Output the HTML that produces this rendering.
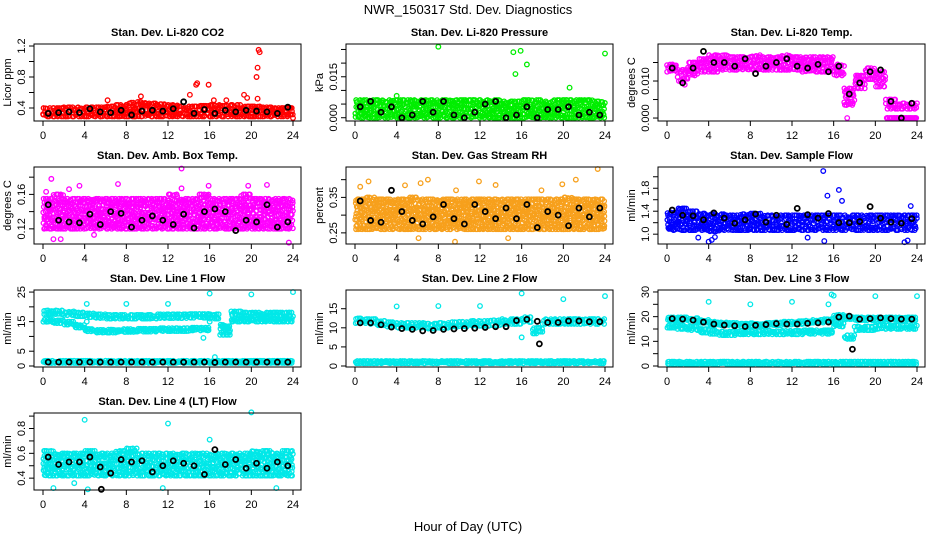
<!DOCTYPE html>
<html><head><meta charset="utf-8"><style>
body{margin:0;background:#fff}
svg{display:block;font-family:"Liberation Sans",Arial,sans-serif}
</style></head><body>
<svg id="chart" width="936" height="540" viewBox="0 0 936 540">
<rect width="936" height="540" fill="#fff"/>
<text x="468" y="14" text-anchor="middle" font-size="13">NWR_150317  Std. Dev. Diagnostics</text>
<text x="468" y="531" text-anchor="middle" font-size="13">Hour of Day (UTC)</text>
</svg>
<script>
const xTicks=[0,4,8,12,16,20,24];
// CO2
const co2Lo=[0.29,0.29,0.29,0.29,0.29,0.29,0.29,0.29,0.29,0.29,0.29,0.29,0.29,0.29,0.29,0.29,0.29,0.29,0.29,0.29,0.29,0.29,0.29,0.29];
const co2Hi=[0.40,0.40,0.41,0.41,0.41,0.41,0.42,0.44,0.47,0.48,0.46,0.45,0.44,0.42,0.42,0.43,0.44,0.43,0.44,0.42,0.42,0.41,0.40,0.40];
const co2Black=[0.33,0.34,0.35,0.34,0.39,0.35,0.34,0.37,0.31,0.36,0.37,0.36,0.39,0.48,0.33,0.38,0.33,0.37,0.35,0.37,0.36,0.35,0.33,0.41];
const co2OutH=[6.2,14.1,14.7,14.8,15.9,16.4,19.3,19.6,20.5,20.6,20.7,20.8,20.6,9.4,17.6,24];
const co2OutV=[0.5,0.57,0.7,0.72,0.7,0.5,0.57,0.53,0.8,0.92,1.15,1.12,0.52,0.55,0.5,0.27];
// Pressure
const prLo=[0,0,0,0,0,0,0,0,0,0,0,0,0,0,0,0,0,0,0,0,0,0,0,0];
const prHi=[0.0065,0.0065,0.0065,0.0065,0.0065,0.0065,0.0065,0.0065,0.0065,0.0065,0.0065,0.0065,0.0065,0.0065,0.006,0.006,0.0065,0.0065,0.006,0.0065,0.0065,0.0065,0.0065,0.006];
const prBlack=[0.004,0.006,0.002,0.004,0.0,0.001,0.006,0.002,0.006,0.001,0,0.002,0.005,0.006,0,0.001,0.004,0,0.003,0.003,0.004,0.001,0.002,0.001];
const prOutH=[8,15.2,15.9,16.5,15.4,20.6,24,4];
const prOutV=[0.026,0.024,0.0245,0.0195,0.016,0.011,0.0235,0.008];
// Li-820 Temp
const tLo=[0.0125,0.010,0.0115,0.0125,0.0125,0.013,0.013,0.013,0.013,0.013,0.013,0.013,0.013,0.0125,0.0125,0.0125,0.0115,0.0035,0.008,0.0105,0.0085,0.0025,0.0025,0.0025];
const tHi=[0.0145,0.013,0.015,0.016,0.017,0.017,0.0165,0.0165,0.017,0.0165,0.0165,0.017,0.0165,0.0165,0.0165,0.0165,0.0145,0.008,0.0115,0.0135,0.0125,0.005,0.004,0.004];
const tZeroLo=[null,null,null,null,null,null,null,null,null,null,null,null,null,null,null,null,null,null,null,null,null,0,0,0];
const tZeroHi=[null,null,null,null,null,null,null,null,null,null,null,null,null,null,null,null,null,null,null,null,null,0,0,0];
const tBlack=[0.0135,0.0095,0.0135,0.018,0.015,0.015,0.014,0.016,0.012,0.014,0.015,0.016,0.014,0.0135,0.0145,0.0125,0.014,0.0065,0.0095,0.0125,0.013,0.0045,0,0.004];
const tOutH=[17.3,0.6,1.7];
const tOutV=[0,0.014,0.009];
// Amb box temp
const abLo=[0.12,0.12,0.12,0.12,0.12,0.12,0.12,0.12,0.12,0.12,0.12,0.12,0.12,0.12,0.12,0.12,0.12,0.12,0.12,0.12,0.12,0.12,0.12,0.12];
const abHi=[0.155,0.16,0.155,0.155,0.155,0.155,0.155,0.155,0.155,0.155,0.155,0.155,0.16,0.155,0.155,0.16,0.155,0.155,0.155,0.16,0.155,0.155,0.155,0.155];
const abBlack=[0.148,0.130,0.128,0.127,0.137,0.125,0.140,0.138,0.122,0.130,0.135,0.130,0.125,0.137,0.121,0.140,0.143,0.140,0.118,0.130,0.128,0.148,0.122,0.128];
const abOutH=[0.8,1,1.7,3.5,7.2,13.3,15.9,19.7,21.5,23.6,4.9,13.3,0.3,2.5];
const abOutV=[0.178,0.108,0.108,0.17,0.172,0.19,0.17,0.17,0.171,0.104,0.113,0.167,0.163,0.166];
// RH
const rhLo=[0.26,0.26,0.26,0.26,0.26,0.26,0.26,0.26,0.26,0.26,0.26,0.26,0.26,0.26,0.26,0.26,0.26,0.26,0.26,0.26,0.26,0.26,0.26,0.26];
const rhHi=[0.345,0.35,0.345,0.345,0.345,0.35,0.345,0.345,0.345,0.345,0.345,0.345,0.345,0.345,0.345,0.345,0.345,0.345,0.345,0.345,0.35,0.345,0.345,0.345];
const rhBlack=[0.34,0.285,0.28,0.37,0.31,0.285,0.275,0.295,0.33,0.29,0.275,0.33,0.31,0.29,0.32,0.29,0.33,0.265,0.31,0.30,0.27,0.32,0.295,0.32];
const rhOutH=[1.3,4.8,6.3,7,9.7,11.9,13.5,17.9,19.9,21.2,23.3,0.5,6.1,9.6,14.7];
const rhOutV=[0.395,0.384,0.39,0.40,0.37,0.395,0.385,0.37,0.387,0.40,0.43,0.38,0.235,0.225,0.235];
// Sample flow
const sfLo=[1.07,1.07,1.07,1.07,1.05,1.07,1.07,1.07,1.07,1.07,1.07,1.07,1.07,1.07,1.07,1.07,1.07,1.07,1.07,1.07,1.07,1.07,1.07,1.07];
const sfHi=[1.38,1.45,1.40,1.36,1.35,1.35,1.33,1.35,1.36,1.33,1.33,1.33,1.33,1.33,1.33,1.33,1.33,1.33,1.33,1.33,1.33,1.33,1.33,1.33];
const sfBlack=[1.42,1.33,1.32,1.25,1.37,1.28,1.19,1.25,1.35,1.21,1.33,1.17,1.45,1.34,1.28,1.36,1.20,1.20,1.22,1.48,1.28,1.21,1.19,1.27];
const sfOutH=[15,16.5,15.4,16.8,4,3,15.1,22.8,23.1,13.5,23.4,4.3,4.6];
const sfOutV=[2.1,1.77,1.67,1.58,0.87,0.94,0.88,0.86,0.89,0.94,1.49,0.9,0.95];
// Line 1 flow
const l1TopLo=[17.5,17.5,17.2,16.8,16.5,16.2,16,16,16,16,16,16.2,16.2,16.2,16.3,16.3,16,12,17,16.8,16.8,16.8,16.8,16.8];
const l1TopHi=[18.8,18.8,18.5,18.1,17.8,17.5,17.3,17.3,17.3,17.3,17.3,17.5,17.5,17.5,17.6,17.6,17.5,14,18.5,18.1,18.1,18.1,18.1,18.1];
const l1BotLo=[14.8,14.5,14,13,11.7,11.3,11.3,11.5,11.5,11.6,11.6,11.8,11.8,11.8,12,12,null,10.5,15,15,15,15,15,15];
const l1BotHi=[15.8,15.5,15,14,12.5,12.2,12.3,12.5,12.5,12.6,12.6,12.8,12.8,12.8,13,13,null,13.5,16,16,16,16,16,16];
const l1BaseLo=[1,1,1,1,1,1,1,1,1,1,1,1,1,1,1,1,1,1,1,1,1,1,1,1];
const l1BaseHi=[1.8,1.8,1.8,1.8,1.8,1.8,1.8,1.8,1.8,1.8,1.8,1.8,1.8,1.8,1.8,1.8,1.8,1.8,1.8,1.8,1.8,1.8,1.8,1.8];
const l1Black=[1.3,1.3,1.3,1.3,1.3,1.3,1.3,1.3,1.3,1.3,1.3,1.3,1.3,1.3,1.3,1.3,1.2,1.3,1.3,1.3,1.3,1.3,1.3,1.3];
const l1OutH=[4.2,8,12,16,20,24,15.4,16.5,4.2,16];
const l1OutV=[21,21,21,24.5,24.2,25,9.5,3,15,15];
// Line 2 flow
const l2Lo=[11.2,11,10.5,10.2,10,10,10,9.8,10,10.2,10.3,10.5,10.5,10.7,11,11,11.5,8.5,11,11,11,11,11,11];
const l2Hi=[12.5,12.3,11.8,11.5,11.3,11.3,11.3,11.1,11.3,11.5,11.6,11.8,11.8,12,12.3,12.3,12.8,10,12.3,12.3,12.3,12.3,12.3,12.3];
const l2BaseLo=[0.7,0.7,0.7,0.7,0.7,0.7,0.7,0.7,0.7,0.7,0.7,0.7,0.7,0.7,0.7,0.7,0.7,0.7,0.7,0.7,0.7,0.7,0.7,0.7];
const l2BaseHi=[1.3,1.3,1.3,1.3,1.3,1.3,1.3,1.3,1.3,1.3,1.3,1.3,1.3,1.3,1.3,1.3,1.3,1.3,1.3,1.3,1.3,1.3,1.3,1.3];
const l2Black=[11.3,11.3,10.8,10.2,9.8,9.6,9.2,9.3,9.6,9.7,9.8,9.9,10.1,10.3,10.3,11.9,12.2,11.7,11.4,11.4,11.8,11.8,11.6,11.6];
const l2BlackOutH=[17.7];
const l2BlackOutV=[5.8];
const l2OutH=[4,8,12,16,20,24,16,17.3,17.8];
const l2OutV=[15.6,15.7,15.7,19,17.5,18.3,7.5,9,9];
// Line 3 flow
const l3TopLo=[18.5,18.5,18.2,17.5,16.8,16.5,16.3,16,16.2,16.3,16.5,16.8,17,17.2,17.5,17.8,19.5,19,18.5,18.5,18.5,18.5,18.5,18.5];
const l3TopHi=[19.7,19.7,19.4,18.7,18,17.7,17.5,17.2,17.4,17.5,17.7,18,18.2,18.4,18.7,19,20.7,20.2,19.7,19.7,19.7,19.7,19.7,19.7];
const l3BotLo=[15.5,15,14.5,13.5,13,12.5,12.5,12.8,12.8,12.8,12.8,12.8,12.8,13,13,13,16,11,14.5,14.5,15,15,15,15];
const l3BotHi=[17,16.5,16,15,14.5,14,14,14.3,14.3,14.3,14.3,14.3,14.3,14.5,14.5,14.5,17.5,12.5,16,16,16.5,16.5,16.5,16.5];
const l3BaseLo=[0.7,0.7,0.7,0.7,0.7,0.7,0.7,0.7,0.7,0.7,0.7,0.7,0.7,0.7,0.7,0.7,0.7,0.7,0.7,0.7,0.7,0.7,0.7,0.7];
const l3BaseHi=[1.8,1.8,1.8,1.8,1.8,1.8,1.8,1.8,1.8,1.8,1.8,1.8,1.8,1.8,1.8,1.8,1.8,1.8,1.8,1.8,1.8,1.8,1.8,1.8];
const l3Black=[19.2,19,18.6,17.8,17,16.6,16.3,16,16.5,16.8,17.2,17.0,17.0,17.3,17.5,17.8,19.8,20.2,19,19.2,19.5,19.2,19,19];
const l3BlackOutH=[17.8];
const l3BlackOutV=[6.8];
const l3OutH=[4,8,12,15.8,16,15.5,20,24];
const l3OutV=[26,25,26,29,28.5,25,28.3,28.3];
// Line 4 flow
const l4Lo=[0.42,0.42,0.42,0.42,0.42,0.42,0.42,0.42,0.42,0.42,0.42,0.42,0.42,0.42,0.42,0.42,0.42,0.42,0.42,0.42,0.42,0.42,0.42,0.42];
const l4Hi=[0.62,0.6,0.6,0.6,0.62,0.6,0.6,0.62,0.64,0.6,0.6,0.6,0.6,0.6,0.6,0.6,0.6,0.6,0.6,0.6,0.62,0.62,0.6,0.62];
const l4Black=[0.57,0.51,0.53,0.53,0.57,0.49,0.44,0.55,0.53,0.54,0.45,0.50,0.54,0.52,0.50,0.43,0.63,0.51,0.55,0.48,0.52,0.48,0.53,0.50];
const l4BlackOutH=[5.6];
const l4BlackOutV=[0.31];
const l4OutH=[4,12,20,16,4.3,11.5,22.4,1,3];
const l4OutV=[0.87,0.84,0.93,0.71,0.31,0.32,0.32,0.32,0.36];

const NS='http://www.w3.org/2000/svg';
const svg=document.getElementById('chart');
function mk(tag,attrs,parent){const e=document.createElementNS(NS,tag);for(const k in attrs)e.setAttribute(k,attrs[k]);(parent||svg).appendChild(e);return e;}
// deterministic texture jitter (visual only, not data)
function jit(a,b){const s=Math.sin(a*12.9898+b*78.233)*43758.5453;return s-Math.floor(s);}

const colL=[34,346,658], rowT=[44,167,290,413], W=267, H=77;
const panels=[
 {id:'co2',title:'Stan. Dev. Li-820 CO2',yl:'Licor ppm',c:0,r:0,ymin:0.232,ymax:1.226,ticks:[0.4,0.6,0.8,1.0,1.2],labs:['0.4','','0.8','','1.2'],col:'#ff0000',bands:[[co2Lo,co2Hi]],black:co2Black,oh:co2OutH,ov:co2OutV},
 {id:'pressure',title:'Stan. Dev. Li-820 Pressure',yl:'kPa',c:1,r:0,ymin:-0.0012,ymax:0.027,ticks:[0,0.005,0.01,0.015,0.02,0.025],labs:['0.000','','','0.015','',''],col:'#00ee00',bands:[[prLo,prHi]],black:prBlack,oh:prOutH,ov:prOutV},
 {id:'li820-temp',title:'Stan. Dev. Li-820 Temp.',yl:'degrees C',c:2,r:0,ymin:-0.0008,ymax:0.020,ticks:[0,0.005,0.01,0.015],labs:['0.000','','0.010',''],col:'#ff00ff',bands:[[tLo,tHi],[tZeroLo,tZeroHi]],black:tBlack,oh:tOutH,ov:tOutV},
 {id:'amb-box-temp',title:'Stan. Dev. Amb. Box Temp.',yl:'degrees C',c:0,r:1,ymin:0.1024,ymax:0.1918,ticks:[0.12,0.14,0.16,0.18],labs:['0.12','','0.16',''],col:'#ff00ff',bands:[[abLo,abHi]],black:abBlack,oh:abOutH,ov:abOutV},
 {id:'gas-stream-rh',title:'Stan. Dev. Gas Stream RH',yl:'percent',c:1,r:1,ymin:0.2186,ymax:0.4357,ticks:[0.25,0.30,0.35,0.40],labs:['0.25','','0.35',''],col:'#f7a01c',bands:[[rhLo,rhHi]],black:rhBlack,oh:rhOutH,ov:rhOutV},
 {id:'sample-flow',title:'Stan. Dev. Sample Flow',yl:'ml/min',c:2,r:1,ymin:0.829,ymax:2.17,ticks:[1.0,1.2,1.4,1.6,1.8,2.0],labs:['1.0','','1.4','','1.8',''],col:'#0000ff',bands:[[sfLo,sfHi]],black:sfBlack,oh:sfOutH,ov:sfOutV},
 {id:'line1-flow',title:'Stan. Dev. Line 1 Flow',yl:'ml/min',c:0,r:2,ymin:-0.34,ymax:25.7,ticks:[0,5,10,15,20,25],labs:['0','5','','15','','25'],col:'#00e8e8',bands:[[l1TopLo,l1TopHi],[l1BotLo,l1BotHi],[l1BaseLo,l1BaseHi]],black:l1Black,oh:l1OutH,ov:l1OutV},
 {id:'line2-flow',title:'Stan. Dev. Line 2 Flow',yl:'ml/min',c:1,r:2,ymin:-0.26,ymax:19.9,ticks:[0,5,10,15],labs:['0','5','10','15'],col:'#00e8e8',bands:[[l2Lo,l2Hi],[l2BaseLo,l2BaseHi]],black:l2Black,oh:l2OutH,ov:l2OutV,bh:l2BlackOutH,bv:l2BlackOutV},
 {id:'line3-flow',title:'Stan. Dev. Line 3 Flow',yl:'ml/min',c:2,r:2,ymin:-0.4,ymax:30.8,ticks:[0,5,10,15,20,25,30],labs:['0','','10','','20','','30'],col:'#00e8e8',bands:[[l3TopLo,l3TopHi],[l3BotLo,l3BotHi],[l3BaseLo,l3BaseHi]],black:l3Black,oh:l3OutH,ov:l3OutV,bh:l3BlackOutH,bv:l3BlackOutV},
 {id:'line4-flow',title:'Stan. Dev. Line 4 (LT) Flow',yl:'ml/min',c:0,r:3,ymin:0.3045,ymax:0.925,ticks:[0.4,0.5,0.6,0.7,0.8,0.9],labs:['0.4','','0.6','','0.8',''],col:'#00e8e8',bands:[[l4Lo,l4Hi]],black:l4Black,oh:l4OutH,ov:l4OutV,bh:l4BlackOutH,bv:l4BlackOutV}
];

panels.forEach((p,pi)=>{
  const L=colL[p.c], T=rowT[p.r], B=T+H;
  const g=mk('g',{});
  
  
  const xs=h=>L+9+h*(250/24);
  const ys=v=>B-(v-p.ymin)/(p.ymax-p.ymin)*H;
  const t=mk('text',{x:L+W/2,y:T-8,'text-anchor':'middle','font-size':11,'font-weight':'bold'},g);
  t.textContent=p.title;
  
  
  xTicks.forEach(h=>{
    mk('line',{x1:xs(h),x2:xs(h),y1:B,y2:B+5,stroke:'#000','stroke-width':1},g);
    const tl=mk('text',{x:xs(h),y:B+18,'text-anchor':'middle','font-size':11},g);
    tl.textContent=h;
    
    
  });
  p.ticks.forEach((v,i)=>{
    mk('line',{x1:L-5,x2:L,y1:ys(v),y2:ys(v),stroke:'#000','stroke-width':1},g);
    if(p.labs[i]){
      const yl=mk('text',{x:L-9,y:ys(v),'text-anchor':'middle','font-size':11,transform:`rotate(-90 ${L-9} ${ys(v)})`},g);
      yl.textContent=p.labs[i];
      
      
    }
  });
  const yt=mk('text',{x:L-23,y:T+H/2,'text-anchor':'middle','font-size':11,transform:`rotate(-90 ${L-23} ${T+H/2})`},g);
  yt.textContent=p.yl;
  
  
  const cg=mk('g',{fill:'none',stroke:p.col,'stroke-width':1.3},g);
  
  
  p.bands.forEach(([lo,hi],bi)=>{
    lo.forEach((l,hr)=>{
      const hv=hi[hr]; if(l===null||hv===null) return;
      const y1=ys(l), y2=ys(hv);
      const n=Math.max(1,Math.round(Math.abs(y1-y2)/4.5));
      for(let k=0;k<6;k++){
        for(let j=0;j<=n;j++){
          const a=pi*1000+bi*300+hr*7+k, b=j+1;
          const x=xs(hr+(k+jit(a,b))/6);
          const yy=y1+(y2-y1)*Math.min(1,Math.max(0,(j+jit(b,a)-0.5)/n));
          mk('circle',{cx:x.toFixed(1),cy:yy.toFixed(1),r:2.2},cg);
        }
      }
    });
  });
  p.oh.forEach((h,i)=>{
    const c=mk('circle',{cx:xs(h),cy:ys(p.ov[i]),r:2.3},cg);
    
    
  });
  const bg=mk('g',{fill:'none',stroke:'#000','stroke-width':1.8},g);
  
  
  p.black.forEach((v,i)=>{
    const c=mk('circle',{cx:xs(i+0.5),cy:ys(v),r:2.5},bg);
    
    
  });
  (p.bh||[]).forEach((h,i)=>{
    const c=mk('circle',{cx:xs(h),cy:ys(p.bv[i]),r:2.5},bg);
    
    
  });
  const box=mk('rect',{x:L,y:T,width:W,height:H,fill:'none',stroke:'#000','stroke-width':1},g);
  
  
});
</script>
</body></html>
